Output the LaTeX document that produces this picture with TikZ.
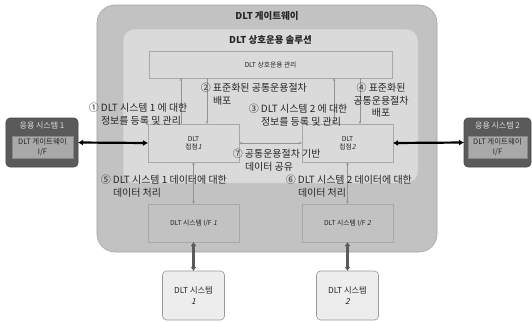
\documentclass[tikz,border=0pt]{standalone}
\usepackage{fontspec}
\setmainfont{Noto Sans CJK KR}
\newfontfamily\slantfont[FakeSlant=0.25]{Noto Sans CJK KR}
\newcommand{\slnum}[1]{{\slantfont #1}}
\usetikzlibrary{arrows.meta}
\definecolor{gwfill}{HTML}{C2C2C2}
\definecolor{solfill}{HTML}{DADADA}
\definecolor{boxline}{HTML}{A8A8A8}
\definecolor{appfill}{HTML}{5A5A5A}
\definecolor{appin}{HTML}{A9A9A9}
\definecolor{sysfill}{HTML}{EDEDED}
\definecolor{txt}{HTML}{262626}
\begin{document}
\begin{tikzpicture}[x=1bp,y=-1bp,
  every node/.style={inner sep=0pt,outer sep=0pt,text=txt},
  gwbox/.style={draw=gwfill!85!black,fill=gwfill,rounded corners=18bp,line width=0.6bp},
  solbox/.style={draw=solfill!92!black,fill=solfill,rounded corners=12bp,line width=0.5bp},
  plainbox/.style={draw=boxline,line width=0.6bp,align=center,font=\fontsize{6.8}{8}\selectfont},
  appbox/.style={draw=appfill!80!black,fill=appfill,rounded corners=4bp,line width=0.6bp},
  appinner/.style={draw=appin!80!black,fill=appin,line width=0.4bp,align=center,font=\fontsize{7.5}{9.5}\selectfont},
  sysbox/.style={draw=gray!80,fill=sysfill,rounded corners=4bp,line width=0.6bp,align=center,font=\fontsize{8.3}{11}\selectfont},
  lbl/.style={anchor=north west,align=left,font=\fontsize{10}{12.5}\selectfont},
  thinarr/.style={draw=gray!85,line width=0.5bp,-{Stealth[length=3bp,width=2.5bp]}},
  thinboth/.style={draw=gray!85,line width=0.5bp,{Stealth[length=3bp,width=2.5bp]}-{Stealth[length=3bp,width=2.5bp]}},
  blackarr/.style={draw=black,line width=2.2bp,{Latex[length=5bp,width=6bp]}-{Latex[length=5bp,width=6bp]}},
  grayarr/.style={draw=appfill,line width=2.6bp,{Latex[length=4bp,width=6bp]}-{Latex[length=4bp,width=6bp]}}
]
\useasboundingbox (0,0) rectangle (532,321);
\fill[white] (0,0) rectangle (532,321);

% gateway and solution
\node[gwbox,minimum width=340bp,minimum height=247bp] (gw) at (267,128.5) {};
\node[font=\fontsize{9.5}{11}\selectfont\bfseries] (gwt) at (267,16) {DLT 게이트웨이};
\node[solbox,minimum width=295bp,minimum height=154bp] (sol) at (270.5,106) {};
\node[font=\fontsize{9.5}{11}\selectfont\bfseries] (solt) at (270.5,40) {DLT 상호운용 솔루션};

% boxes
\node[plainbox,minimum width=243bp,minimum height=27bp] (mg) at (270.5,64.5) {DLT 상호운용 관리};
\node[plainbox,minimum width=91bp,minimum height=38bp] (n1) at (193.5,143) {DLT\\접점\slnum{1}};
\node[plainbox,minimum width=91bp,minimum height=38bp] (n2) at (347.5,143) {DLT\\접점\slnum{2}};
\node[plainbox,minimum width=91bp,minimum height=38bp] (if1) at (193.5,223) {DLT 시스템 I/F \slnum{1}};
\node[plainbox,minimum width=91bp,minimum height=38bp] (if2) at (347.5,223) {DLT 시스템 I/F \slnum{2}};
\node[sysbox,minimum width=62bp,minimum height=49bp] (s1) at (193.5,295.5) {DLT 시스템\\\slnum{1}};
\node[sysbox,minimum width=62bp,minimum height=49bp] (s2) at (347.5,295.5) {DLT 시스템\\\slnum{2}};

% application systems
\node[appbox,minimum width=72bp,minimum height=49bp] (a1) at (42,142.5) {};
\node[font=\fontsize{8}{9}\selectfont,text=gray!25] (a1t) at (42,125.5) {응용 시스템 1};
\node[appinner,minimum width=61bp,minimum height=22bp] (a1i) at (42.5,147) {DLT 게이트웨이\\I/F};
\node[appbox,minimum width=67bp,minimum height=49bp] (a2) at (497.5,142.5) {};
\node[font=\fontsize{8}{9}\selectfont,text=gray!25] (a2t) at (497.5,125.5) {응용 시스템 2};
\node[appinner,minimum width=59bp,minimum height=22bp] (a2i) at (497.5,147) {DLT 게이트웨이\\I/F};

% connectors
\draw[blackarr] (a1.east) -- (n1.west);
\draw[blackarr] (n2.east) -- (a2.west);
\draw[grayarr] (if1.south) -- (s1.north);
\draw[grayarr] (if2.south) -- (s2.north);
\draw[thinarr] ([xshift=-12.5bp]n1.north) -- ([xshift=-12.5bp]n1.north |- mg.south);
\draw[thinarr] ([xshift=13.5bp]n1.north |- mg.south) -- ([xshift=13.5bp]n1.north);
\draw[thinarr] ([xshift=-13.5bp]n2.north) -- ([xshift=-13.5bp]n2.north |- mg.south);
\draw[thinarr] ([xshift=12.5bp]n2.north |- mg.south) -- ([xshift=12.5bp]n2.north);
\draw[thinboth] (n1.east) -- (n2.west);
\draw[thinboth] (n1.south) -- (if1.north);
\draw[thinboth] (n2.south) -- (if2.north);

% labels
\node[lbl] (l1) at (101,103.5) {\llap{① }DLT 시스템 1 에 대한\\정보를 등록 및 관리};
\node[lbl] (l2) at (213,83.5) {\llap{② }표준화된 공통운용절차\\배포};
\node[lbl] (l3) at (261,104.5) {\llap{③ }DLT 시스템 2 에 대한\\정보를 등록 및 관리};
\node[lbl,anchor=north,align=center] (l4) at (381,83.5) {④ 표준화된\\공통운용절차\\배포};
\node[lbl] (l5) at (113,175.5) {\llap{⑤ }DLT 시스템 1 데이터에 대한\\데이터 처리};
\node[lbl] (l6) at (298,175.5) {\llap{⑥ }DLT 시스템 2 데이터에 대한\\데이터 처리};
\node[lbl] (l7) at (245,149.5) {\llap{⑦ }공통운용절차 기반\\데이터 공유};
\end{tikzpicture}
\end{document}
